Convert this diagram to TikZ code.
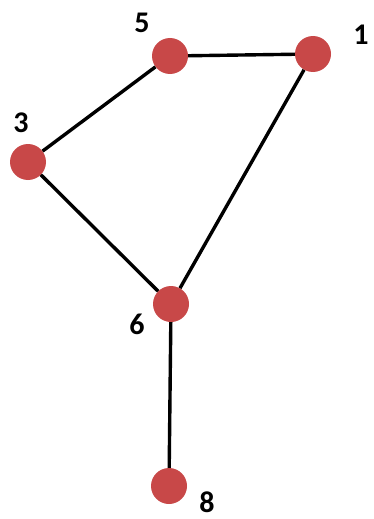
\documentclass[tikz,border=0pt]{standalone}
\usepackage{fontspec}
\setmainfont{Carlito}
\usepackage{tikz}
\definecolor{vertexRed}{RGB}{200,72,72}
\tikzset{
  vertex/.style={circle,fill=vertexRed,minimum size=36pt,inner sep=0pt},
  vertex label/.style={font=\fontsize{30}{30}\selectfont\bfseries,text=black},
  edge/.style={line width=3.4pt,draw=black}
}
\begin{document}
\begin{tikzpicture}[x=1pt,y=-1pt]
  \useasboundingbox (0,0) rectangle (373,519);
  \node[vertex] (five) at (170,56) {};
  \node[vertex] (one) at (313,54) {};
  \node[vertex] (three) at (28,162) {};
  \node[vertex] (six) at (171,304) {};
  \node[vertex] (eight) at (169,486) {};
  \node[vertex label] (lfive) at (142,23) {5};
  \node[vertex label] (lone) at (361,35) {1};
  \node[vertex label] (lthree) at (21,123) {3};
  \node[vertex label] (lsix) at (137,324) {6};
  \node[vertex label] (leight) at (207,502) {8};
  \draw[edge] (five) -- (one);
  \draw[edge] (five) -- (three);
  \draw[edge] (three) -- (six);
  \draw[edge] (one) -- (six);
  \draw[edge] (six) -- (eight);
\end{tikzpicture}
\end{document}
